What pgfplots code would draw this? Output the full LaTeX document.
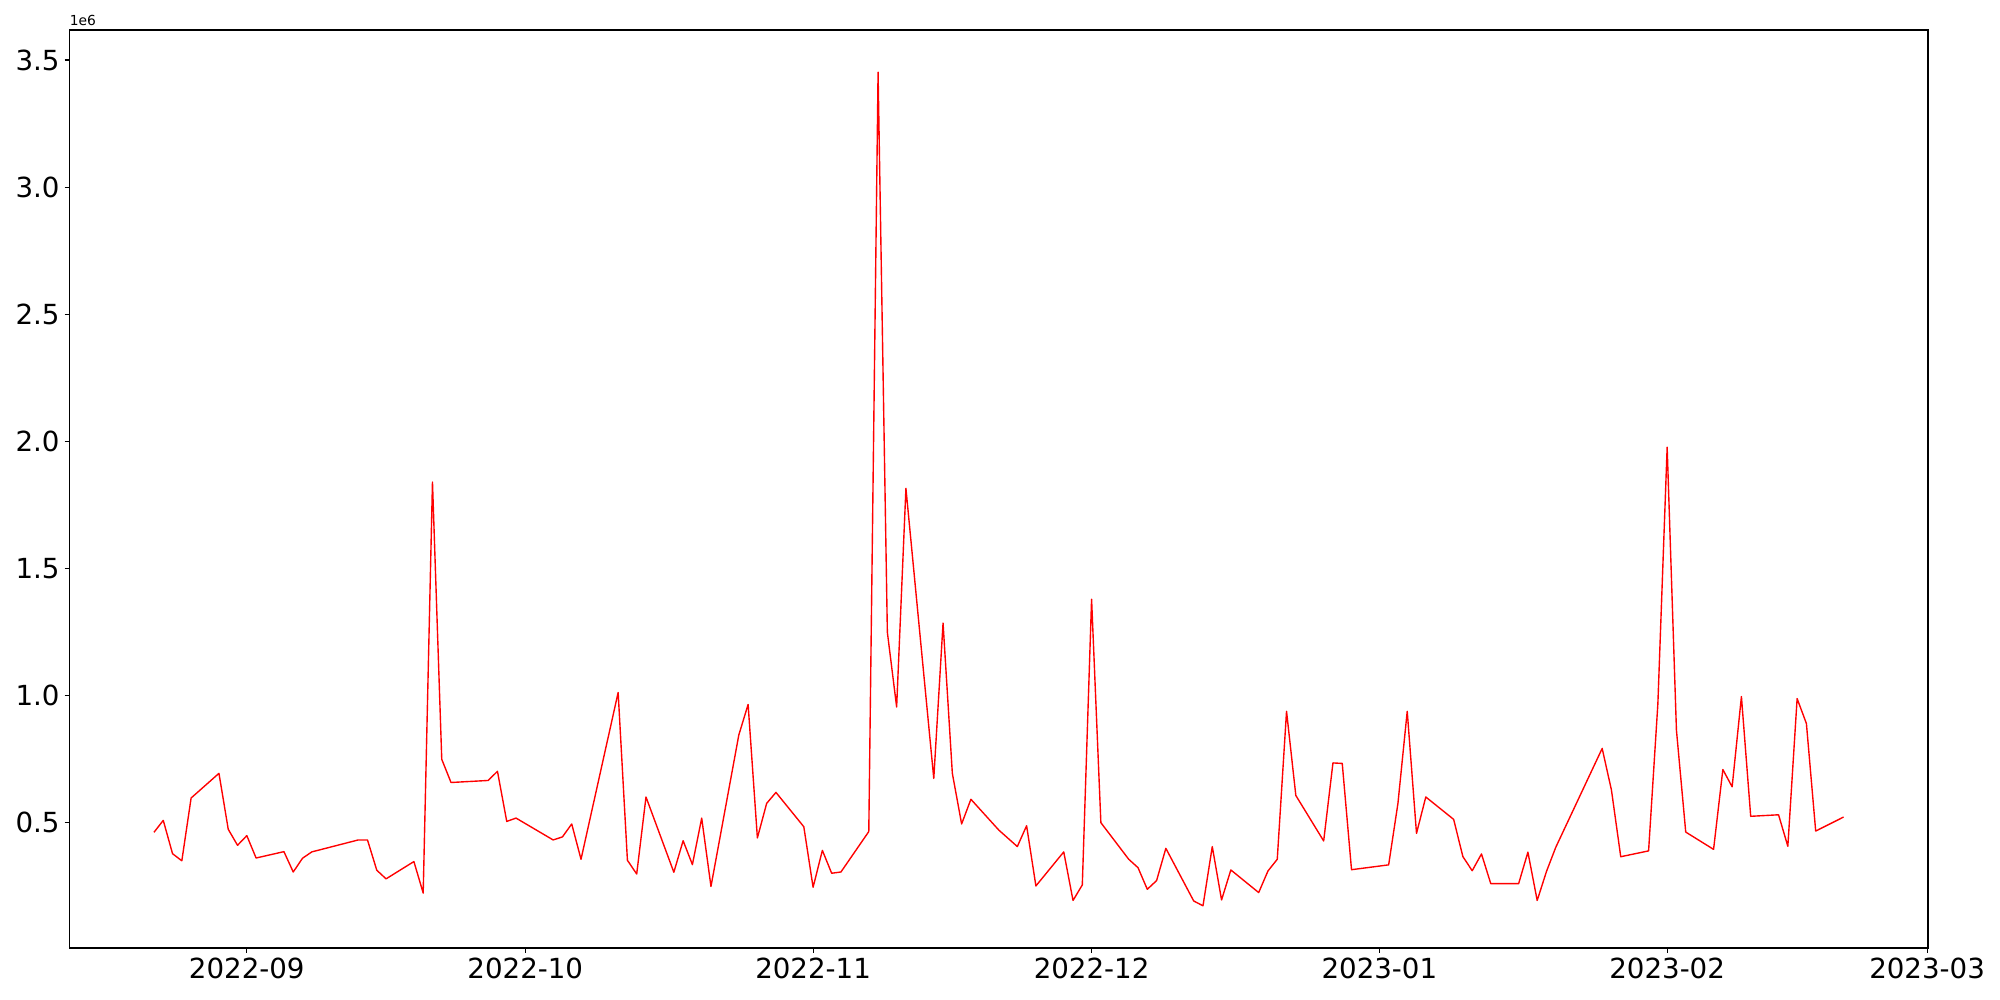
\documentclass[border=0pt]{standalone}
\usepackage{fontspec}
\setmainfont{DejaVu Sans}
\usepackage{pgfplots}
\pgfplotsset{compat=1.18}
\usepackage{pgfplotstable}

% day index: 0 = 2022-09-01
\pgfplotstableread{
day value
-10 462000
-9 509000
-8 378000
-7 350000
-6 597000
-3 694000
-2 474000
-1 411000
0 449000
1 361000
4 386000
5 306000
6 360000
7 385000
12 432000
13 432000
14 313000
15 279000
18 347000
19 223000
20 1840000
21 749000
22 658000
26 666000
27 702000
28 505000
29 518000
33 432000
34 444000
35 495000
36 356000
40 1012000
41 352000
42 298000
43 601000
46 305000
47 429000
48 335000
49 518000
50 249000
53 845000
54 965000
55 440000
56 576000
57 619000
60 484000
61 246000
62 391000
63 301000
64 306000
67 465000
68 3452000
69 1249000
70 955000
71 1815000
74 674000
75 1285000
76 694000
77 495000
78 592000
81 471000
83 406000
84 488000
85 251000
88 385000
89 194000
90 255000
91 1379000
92 500000
95 356000
96 323000
97 238000
98 272000
99 399000
102 192000
103 173000
104 406000
105 196000
106 314000
109 225000
110 310000
111 356000
112 938000
113 607000
116 428000
117 735000
118 733000
119 315000
123 334000
124 576000
125 938000
126 458000
127 601000
130 513000
131 366000
132 311000
133 377000
134 260000
137 260000
138 384000
139 194000
140 308000
141 403000
146 792000
147 628000
148 366000
151 389000
152 968000
153 1977000
154 864000
155 463000
158 395000
159 709000
160 641000
161 996000
162 525000
165 531000
166 407000
167 988000
168 890000
169 467000
172 522000
}\datatable

\begin{document}
\begin{tikzpicture}
\path[use as bounding box] (-0.695in,-0.52in) rectangle (19.305in,9.48in);
\begin{axis}[
  scale only axis,
  width=18.585in,
  height=9.18in,
  xmin=-19.1, xmax=181.1,
  ymin=7000, ymax=3618000,
  xtick={0,30,61,91,122,153,181},
  xticklabels={2022-09,2022-10,2022-11,2022-12,2023-01,2023-02,2023-03},
  ytick={500000,1000000,1500000,2000000,2500000,3000000,3500000},
  yticklabels={0.5,1.0,1.5,2.0,2.5,3.0,3.5},
  scaled y ticks=false,
  tick align=outside,
  major tick length=3.5pt,
  xtick pos=bottom,
  ytick pos=left,
  every tick/.style={black, line width=0.8pt},
  axis line style={black, line width=0.8pt},
  xticklabel style={font=\fontsize{20}{24}\selectfont, inner sep=0pt, yshift=-3.5pt},
  yticklabel style={font=\fontsize{20}{24}\selectfont, inner sep=0pt, xshift=-3.5pt},
  clip=false,
]
\addplot[color=red, line width=1pt, line join=round, mark=none] table[x=day, y=value] {\datatable};
\node[anchor=south west, inner sep=0pt, font=\fontsize{10}{12}\selectfont, yshift=3pt] at (rel axis cs:0,1) {1e6};
\end{axis}
\end{tikzpicture}
\end{document}
